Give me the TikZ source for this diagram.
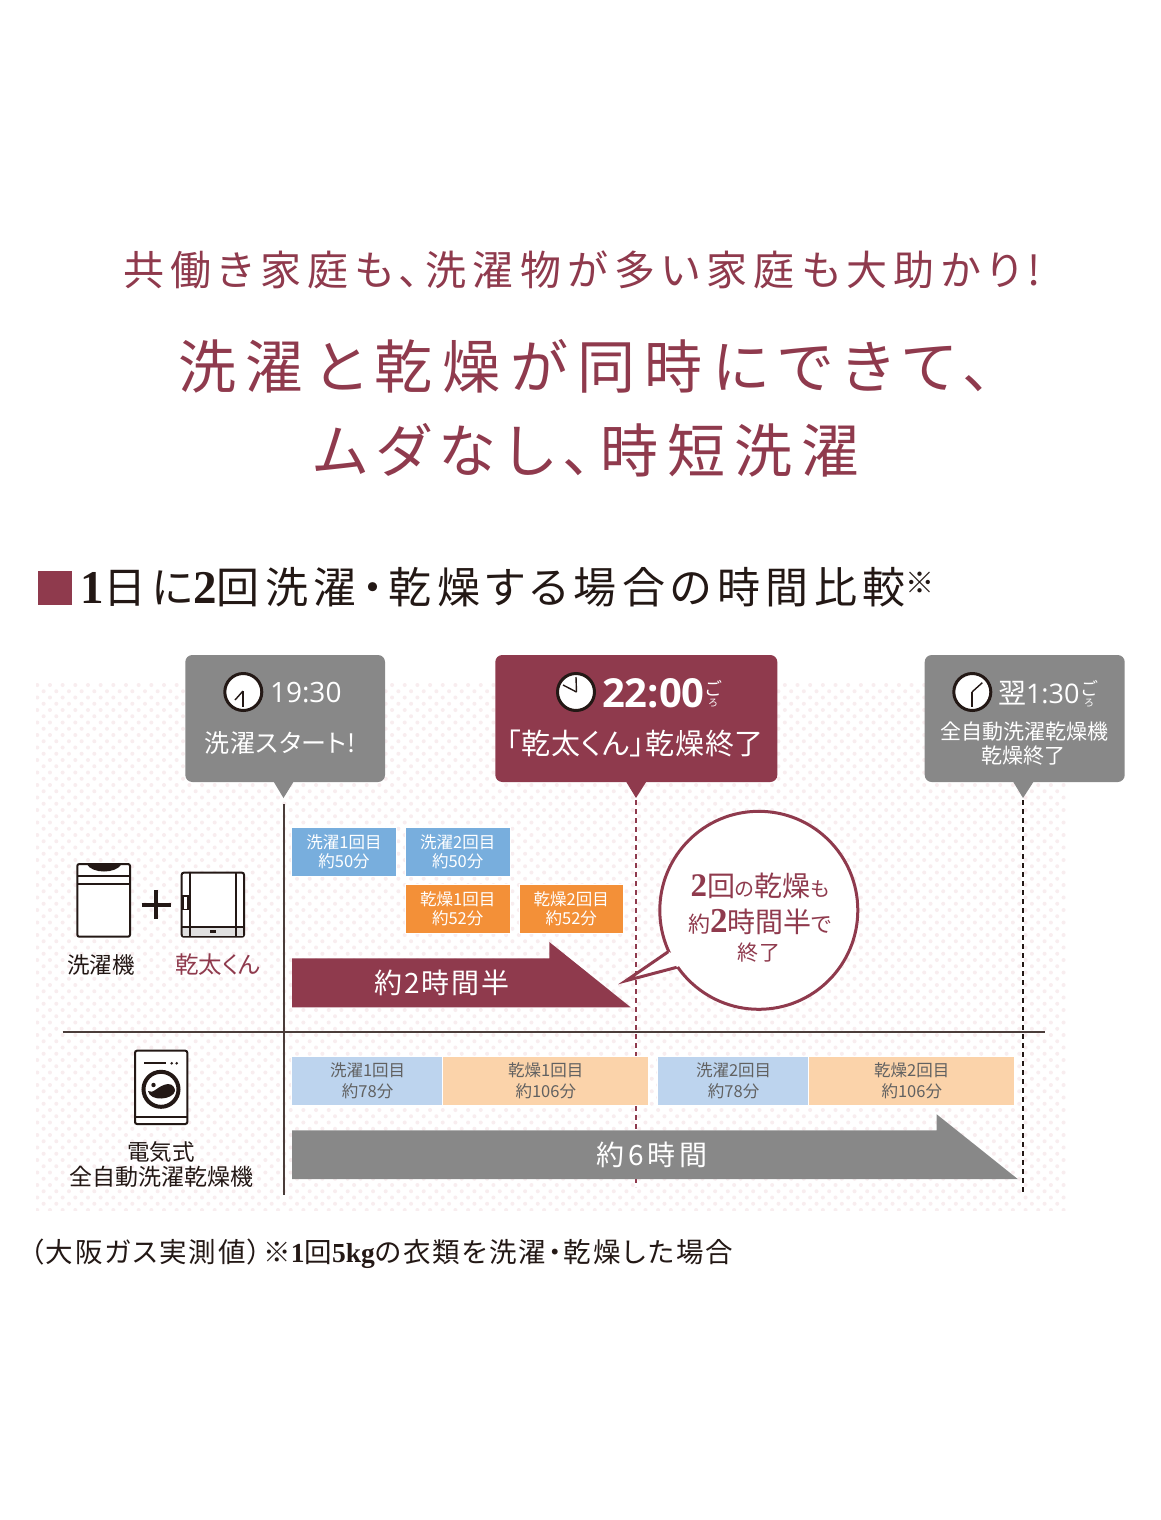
\documentclass[tikz,border=0pt]{standalone}
\usepackage{fontspec}
\setmainfont{Noto Sans CJK JP}
\newfontfamily\jp[RawFeature=+palt]{Noto Sans CJK JP}
\newfontfamily\sz{Liberation Serif}
\newfontfamily\dg{Open Sans}
\newcommand{\fs}[1]{\fontsize{#1}{#1}\selectfont}
\newcommand{\ls}[1]{\addfontfeature{LetterSpace=#1}}
\definecolor{wine}{HTML}{8F3A4D}
\definecolor{ink}{HTML}{231815}
\definecolor{greyb}{HTML}{888888}
\definecolor{rulec}{HTML}{4A3D3A}
\definecolor{dotc}{HTML}{F8EDEF}
\definecolor{bluea}{HTML}{78AEDD}
\definecolor{oranga}{HTML}{F39038}
\definecolor{blueb}{HTML}{BDD4EE}
\definecolor{orangb}{HTML}{FBD3AA}
\tikzset{
  txt/.style={inner sep=0pt,outer sep=0pt,align=center,font=\jp},
  barbox/.style={inner sep=0pt,outer sep=0pt,align=center,font=\jp\fs{16.5},draw=white,line width=0.8pt},
  washbox/.style={barbox,fill=bluea,text=white,minimum height=49.8pt},
  drybox/.style={barbox,fill=oranga,text=white,minimum height=49.8pt},
  washlong/.style={barbox,fill=blueb,text=black!62,minimum height=49.6pt,minimum width=152pt},
  drylong/.style={barbox,fill=orangb,text=black!62,minimum height=49.6pt,minimum width=206pt},
  solidrule/.style={draw=rulec,line width=1.7pt},
  dashrule/.style={line width=1.1pt,dash pattern=on 5pt off 4pt},
  icon/.style={draw=ink,line width=2pt,fill=white,rounded corners=2pt},
  iconline/.style={draw=ink,line width=2pt},
  hand/.style={draw=ink,line width=1.4pt},
  clockface/.style={circle,draw=ink,fill=white,line width=3pt,minimum size=37pt,inner sep=0pt},
}
\begin{document}
\begin{tikzpicture}[x=1pt,y=-1pt]
\useasboundingbox (0,0) rectangle (1160,1520);
\fill[white] (0,0) rectangle (1160,1520);
% dotted field
\begin{scope}
\clip (36,683) rectangle (1066,1210);
\foreach \r in {0,...,84}{
  \fill[dotc] \foreach \c in {0,...,81}{
  ({37.3+12.67*\c+6.33*mod(\r,2)},{685+6.25*\r}) circle[radius=2]};}
\end{scope}
% titles
\node[txt,text=wine] (title1) at (582,270) {\fs{41}\ls{15.5}共働き家庭も、洗濯物が多い家庭も大助かり!};
\node[txt,text=wine] (title2) at (585,366) {\fs{58}\ls{17}洗濯と乾燥が同時にできて、};
\node[txt,text=wine] (title3) at (586.5,450) {\fs{58}\ls{15.5}ムダなし、時短洗濯};
\node[fill=wine,minimum width=33.5pt,minimum height=33.5pt,inner sep=0pt] (sq) at (55.2,587.8) {};
\node[txt,text=ink,anchor=west] (head) at (80,587) {\fs{43}\ls{12.5}{\sz\bfseries\fs{47}1}日に{\sz\bfseries\fs{47}2}回洗濯・乾燥する場合の時間比較\raisebox{10pt}{\fs{29}※}};
\node[txt,text=ink,anchor=west] (foot) at (30,1254) {\fs{27.5}\ls{7}（大阪ガス実測値）※{\sz\bfseries 1}回{\sz\bfseries 5kg}の衣類を洗濯・乾燥した場合};
% axes
\coordinate (vt) at (283.7,804); \coordinate (vb) at (283.7,1195);
\coordinate (hl) at (62.7,1031.7); \coordinate (hr) at (1044.5,1031.7);
\coordinate (r1) at (636,800); \coordinate (r2) at (636,1187);
\coordinate (k1) at (1023,800); \coordinate (k2) at (1023,1195);
\draw[solidrule] (vt)--(vb);
\draw[solidrule] (hl)--(hr);
\draw[dashrule,draw=wine] (r1)--(r2);
\draw[dashrule,draw=ink] (k1)--(k2);
% callouts
\fill[greyb,rounded corners=7pt] (185.3,655) rectangle (385,782);
\fill[greyb] (273.3,781) -- (283.5,798) -- (294,781) -- cycle;
\fill[wine,rounded corners=7pt] (495.3,655) rectangle (777.3,782);
\fill[wine] (625.7,781) -- (636,798) -- (646.7,781) -- cycle;
\fill[greyb,rounded corners=7pt] (924.7,655) rectangle (1124.7,782);
\fill[greyb] (1012.7,781) -- (1023,798) -- (1034,781) -- cycle;
% clocks
\node[clockface] (c1) at (243.3,692) {};
\draw[hand] (243,691) -- (243,706.5); \draw[hand] (243,691) -- (235,700);
\node[clockface] (c2) at (576,692) {};
\draw[hand] (576.5,692) -- (576,677); \draw[hand] (576.5,692) -- (563,685);
\node[clockface] (c3) at (972.3,692) {};
\draw[hand] (972,692) -- (972,706.5); \draw[hand] (972,692) -- (982.3,682.7);
% callout text
\node[txt,text=white,anchor=west] (t1) at (270,693) {\dg\fs{28}19:30};
\node[txt,text=white] (t1b) at (280,743) {\fs{25}\ls{3}洗濯スタート!};
\node[txt,text=white,anchor=west] (t2) at (602,693) {\dg\bfseries\fs{40}22:00};
\node[txt,text=white] (g2) at (713,693.5) {\fs{18}ご\\[-1pt]ろ};
\node[txt,text=white] (t2b) at (635,743) {\fs{29}\ls{3}「乾太くん」乾燥終了};
\node[txt,text=white,anchor=west] (t3) at (998,693) {\fs{28}翌{\dg\fs{27}1:30}};
\node[txt,text=white] (g3) at (1089,693.5) {\fs{18}ご\\[-1pt]ろ};
\node[txt,text=white] (t3b) at (1024,732) {\fs{21}全自動洗濯乾燥機};
\node[txt,text=white] (t3c) at (1023,756) {\fs{21}乾燥終了};
% top bars
\node[washbox,minimum width=104.8pt] (w1) at (344,851.8) {洗濯1回目\\[3pt]約50分};
\node[washbox,minimum width=104.8pt] (w2) at (457.7,851.8) {洗濯2回目\\[3pt]約50分};
\node[drybox,minimum width=104.8pt] (d1) at (457.7,908.8) {乾燥1回目\\[3pt]約52分};
\node[drybox,minimum width=104.8pt] (d2) at (571.3,908.8) {乾燥2回目\\[3pt]約52分};
\fill[wine] (292,958.3) -- (549.3,958.3) -- (549.3,942) -- (630.7,1007.3) -- (292,1007.3) -- cycle;
\node[txt,text=white] (big1) at (442,983) {\fs{28}\ls{6}約2時間半};
% speech balloon
\node[circle,draw=wine,fill=white,line width=3pt,minimum size=198pt,inner sep=0pt] (ball) at (758.8,910.3) {};
\coordinate (ta) at (668.3,951.7); \coordinate (tt) at (626,980.7); \coordinate (tb) at (676.7,967.3);
\fill[white] (ta) -- (tt) -- (tb) -- (690,960) -- cycle;
\draw[draw=wine,line width=3pt,miter limit=10] (ta) -- (tt) -- (tb);
\node[txt,text=wine] (b1) at (760,886) {{\sz\bfseries\fs{33}2}\fs{28}回\fs{20}の\fs{28}乾燥\fs{20}も};
\node[txt,text=wine] (b2) at (760,922) {\fs{22}約{\sz\bfseries\fs{35}2}\fs{28}時間半\fs{22}で};
\node[txt,text=wine] (b3) at (759,953) {\fs{21}\ls{2}終了};
% bottom bars
\node[washlong] (lw1) at (367.6,1081) {洗濯1回目\\[4pt]約78分};
\node[drylong] (ld1) at (545.8,1081) {乾燥1回目\\[4pt]約106分};
\node[washlong] (lw2) at (733.6,1081) {洗濯2回目\\[4pt]約78分};
\node[drylong] (ld2) at (911.8,1081) {乾燥2回目\\[4pt]約106分};
\fill[greyb] (292,1130.3) -- (936.7,1130.3) -- (936.7,1114.3) -- (1017.7,1179) -- (292,1179) -- cycle;
\node[txt,text=white] (big2) at (652,1155) {\fs{28}\ls{14}約6時間};
% icon washer
\draw[icon] (77.3,864) rectangle (130,936.7);
\fill[ink] (86.7,864) .. controls (92,874) and (116,874) .. (121.7,864) -- cycle;
\draw[iconline] (77.3,876) -- (130,876);
\draw[iconline] (77.3,884.3) -- (130,884.3);
\draw[ink,line width=3.6pt] (141.7,905) -- (170.7,905);
\draw[ink,line width=3.6pt] (155.7,890) -- (155.7,919);
% icon kanta
\draw[icon] (181.7,872.7) rectangle (244,936.7);
\fill[black!12] (182.7,927.3) rectangle (243,935.7);
\draw[iconline] (190,872.7) -- (190,936.7);
\draw[iconline] (235.7,872.7) -- (235.7,936.7);
\draw[iconline] (181.7,927.3) -- (244,927.3);
\draw[ink,line width=1.6pt,fill=white] (183,896) rectangle (188,909.3);
\fill[ink] (210,930) rectangle (216,933);
\node[txt,text=ink] (l1) at (101,965) {\fs{22.5}洗濯機};
\node[txt,text=wine] (l2) at (218,965) {\fs{23.5}乾太くん};
% icon front loader
\draw[icon] (135,1050.7) rectangle (187.3,1124);
\draw[iconline] (135,1116.7) -- (187.3,1116.7);
\draw[ink,line width=1.8pt] (144.3,1063.3) -- (166,1063.3);
\fill[ink] (171.7,1063.3) circle[radius=1.4] (176.7,1063.3) circle[radius=1.4];
\draw[ink,line width=4pt,fill=white] (161,1089.3) circle[radius=17.5];
\fill[ink] (148,1091) .. controls (153,1095) and (158,1085) .. (168,1084) .. controls (173,1084) and (175,1088) .. (175,1091) .. controls (173,1100) and (150,1102) .. (148,1091) -- cycle;
\fill[ink] (153.5,1085) circle[radius=2.2];
\node[txt,text=ink] (l3) at (161,1152) {\fs{22.5}電気式};
\node[txt,text=ink] (l4) at (161,1177) {\fs{23}全自動洗濯乾燥機};
\end{tikzpicture}
\end{document}
